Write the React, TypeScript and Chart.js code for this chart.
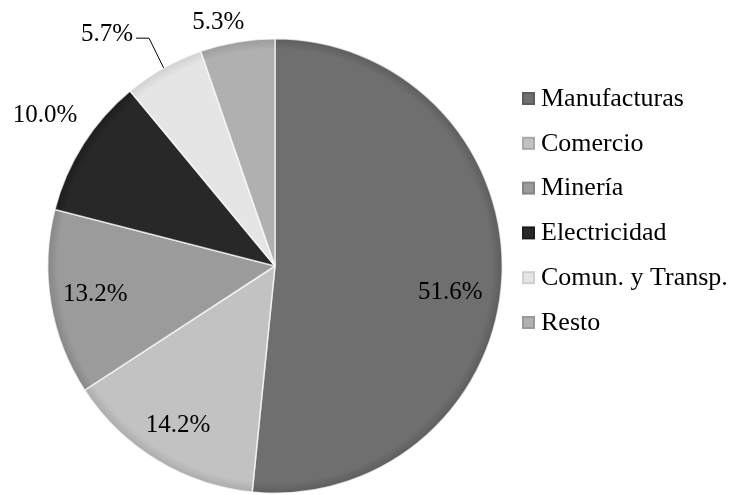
import React, { useEffect, useRef } from "react";
import { Chart, registerables } from "chart.js";

Chart.register(...registerables);

const categories = ["Manufacturas", "Comercio", "Minería", "Electricidad", "Comun. y Transp.", "Resto"];
const shares = [51.6, 14.2, 13.2, 10.0, 5.7, 5.3];
const sliceColors = ["#6f6f6f", "#c2c2c2", "#9b9b9b", "#282828", "#e5e5e5", "#b0b0b0"];
const rimColors = ["#5c5c5c", "#a9a9a9", "#858585", "#1c1c1c", "#cfcfcf", "#9a9a9a"];
const labelRadiusFactor = [0.78, 0.82, 0.8, 1.21, 1.14, 1.1];
const labelAngleOffsetDeg = [5.6, 0, 0.5, 0.8, 0, -3.6];

const FONT = '"Liberation Serif", "Times New Roman", serif';

const labelsPlugin = {
  id: "pctLabels",
  afterDatasetsDraw(chart: any) {
    const ctx = chart.ctx;
    const meta = chart.getDatasetMeta(0);
    const data = chart.data.datasets[0].data as number[];
    ctx.save();
    ctx.fillStyle = "#000";
    ctx.font = `25px ${FONT}`;
    ctx.textBaseline = "middle";
    meta.data.forEach((arc: any, i: number) => {
      const p = arc.getProps(["x", "y", "startAngle", "endAngle", "outerRadius"], true);
      const mid = (p.startAngle + p.endAngle) / 2 + (labelAngleOffsetDeg[i] * Math.PI) / 180;
      const r = p.outerRadius * labelRadiusFactor[i];
      const x = p.x + Math.cos(mid) * r;
      const y = p.y + Math.sin(mid) * r;
      const text = data[i].toFixed(1) + "%";
      if (i === 4) {
        const ex = p.x + Math.cos(mid) * p.outerRadius;
        const ey = p.y + Math.sin(mid) * p.outerRadius;
        ctx.strokeStyle = "#000";
        ctx.lineWidth = 1;
        ctx.beginPath();
        ctx.moveTo(ex, ey);
        ctx.lineTo(x + 1, y - 2);
        ctx.lineTo(x - 12, y - 2);
        ctx.stroke();
        ctx.textAlign = "right";
        ctx.fillText(text, x - 15, y - 6);
      } else {
        ctx.textAlign = "center";
        ctx.fillText(text, x, y);
      }
    });
    ctx.restore();
  },
};

const legendPlugin = {
  id: "sideLegend",
  afterDraw(chart: any) {
    const ctx = chart.ctx;
    const labels = chart.data.labels as string[];
    const x0 = 522;
    const y0 = 98;
    const step = 44.8;
    ctx.save();
    ctx.font = `26px ${FONT}`;
    ctx.textBaseline = "middle";
    ctx.textAlign = "left";
    labels.forEach((lab, i) => {
      const cy = y0 + i * step;
      ctx.fillStyle = rimColors[i];
      ctx.fillRect(x0, cy - 6, 13, 13);
      ctx.fillStyle = sliceColors[i];
      ctx.fillRect(x0 + 2, cy - 4, 9, 9);
      ctx.fillStyle = "#000";
      ctx.fillText(lab, x0 + 19, cy + 1);
    });
    ctx.restore();
  },
};

export default function App() {
  const ref = useRef<HTMLCanvasElement>(null);
  useEffect(() => {
    if (!ref.current) return;
    const chart = new Chart(ref.current, {
      type: "pie",
      data: {
        labels: categories,
        datasets: [
          {
            data: shares,
            backgroundColor: (c: any) => {
              const i = c.dataIndex;
              const chart = c.chart;
              const area = chart.chartArea;
              if (!area) return sliceColors[i];
              const cx = (area.left + area.right) / 2;
              const cy = (area.top + area.bottom) / 2;
              const r = Math.min(area.right - area.left, area.bottom - area.top) / 2;
              const g = chart.ctx.createRadialGradient(cx, cy, 0, cx, cy, r);
              g.addColorStop(0, sliceColors[i]);
              g.addColorStop(0.95, sliceColors[i]);
              g.addColorStop(1, rimColors[i]);
              return g;
            },
            borderColor: "rgba(255,255,255,0.7)",
            borderWidth: 1.5,
          },
        ],
      },
      options: {
        responsive: false,
        animation: false,
        layout: { padding: { left: 46, right: 232, top: 38, bottom: 1 } },
        plugins: {
          legend: { display: false },
          tooltip: { enabled: false },
        },
      },
      plugins: [labelsPlugin, legendPlugin],
    });
    return () => chart.destroy();
  }, []);
  return (
    <div style={{ position: "absolute", left: 0, top: 0, width: 736, height: 495, background: "#fff" }}>
      <canvas ref={ref} width={736} height={495} style={{ display: "block" }} />
    </div>
  );
}
